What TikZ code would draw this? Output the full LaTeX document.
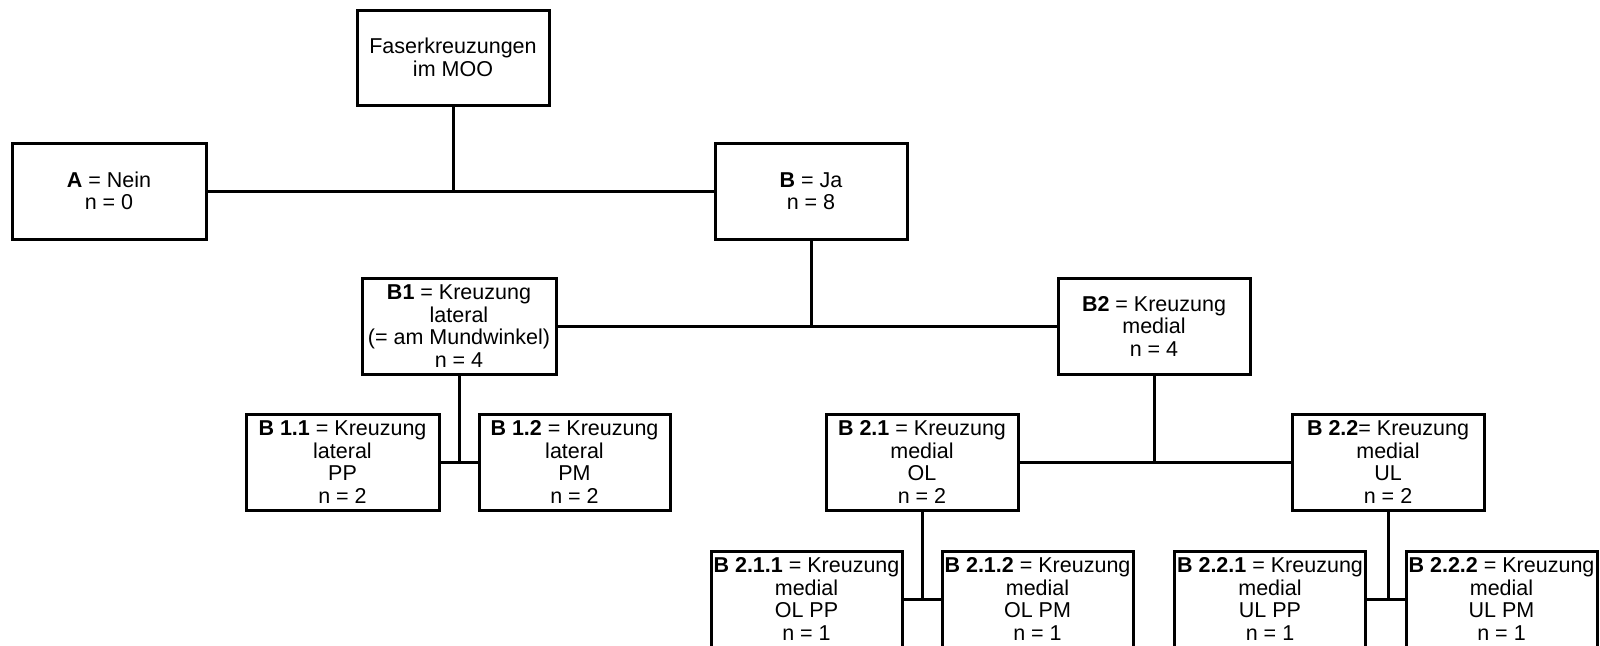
\documentclass[tikz,border=0pt]{standalone}
\usepackage{fontspec}
\setmainfont{Liberation Sans}
\begin{document}
\begin{tikzpicture}[x=1pt,y=-1pt,
  box/.style={draw, line width=3pt, rectangle, inner sep=0pt, align=center,
    minimum width=192pt, minimum height=96pt,
    font=\fontsize{21.5pt}{22.5pt}\selectfont},
  conn/.style={line width=3pt}]
\useasboundingbox (0,0) rectangle (1600,645);
\node[box, minimum height=95pt] (root) at (453,57.5) {Faserkreuzungen\\im MOO};
\node[box, minimum width=194pt] (A) at (109,191) {\textbf{A} = Nein\\n = 0};
\node[box] (B) at (811,191) {\textbf{B} = Ja\\n = 8};
\node[box, minimum width=194pt] (B1) at (459,326) {\textbf{B1} = Kreuzung\\lateral\\(= am Mundwinkel)\\n = 4};
\node[box] (B2) at (1154,326) {\textbf{B2} = Kreuzung\\medial\\n = 4};
\node[box, minimum width=193pt] (B11) at (342.5,462) {\textbf{B 1.1} = Kreuzung\\lateral\\PP\\n = 2};
\node[box, minimum width=191pt] (B12) at (574.5,462) {\textbf{B 1.2} = Kreuzung\\lateral\\PM\\n = 2};
\node[box] (B21) at (922,462) {\textbf{B 2.1} = Kreuzung\\medial\\OL\\n = 2};
\node[box] (B22) at (1388,462) {\textbf{B 2.2}= Kreuzung\\medial\\UL\\n = 2};
\node[box, minimum width=191pt] (B211) at (806.5,599) {\textbf{B 2.1.1} = Kreuzung\\medial\\OL PP\\n = 1};
\node[box, minimum width=191pt] (B212) at (1037.5,599) {\textbf{B 2.1.2} = Kreuzung\\medial\\OL PM\\n = 1};
\node[box, minimum width=191pt] (B221) at (1270,599) {\textbf{B 2.2.1} = Kreuzung\\medial\\UL PP\\n = 1};
\node[box, minimum width=191pt] (B222) at (1501.5,599) {\textbf{B 2.2.2} = Kreuzung\\medial\\UL PM\\n = 1};
\draw[conn] (A.east) -- (B.west);
\draw[conn] (root.south) -- (root.south |- A.east);
\draw[conn] (B1.east) -- (B2.west);
\draw[conn] (B.south) -- (B.south |- B1.east);
\draw[conn] (B11.east) -- (B12.west);
\draw[conn] (B1.south) -- (B1.south |- B11.east);
\draw[conn] (B21.east) -- (B22.west);
\draw[conn] (B2.south) -- (B2.south |- B21.east);
\draw[conn] (B211.east) -- (B212.west);
\draw[conn] (B21.south) -- (B21.south |- B211.east);
\draw[conn] (B221.east) -- (B222.west);
\draw[conn] (B22.south) -- (B22.south |- B221.east);
\end{tikzpicture}
\end{document}
